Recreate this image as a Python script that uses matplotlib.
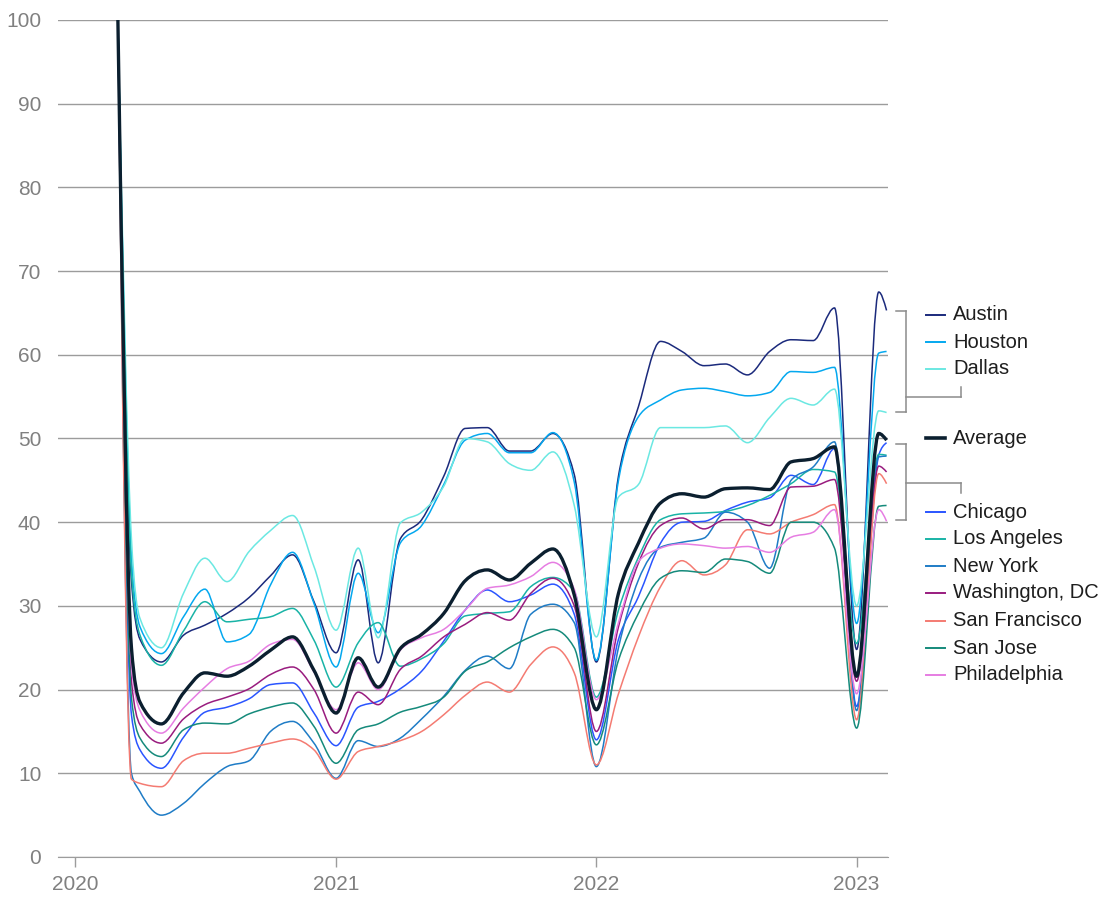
import numpy as np
import pandas as pd
import matplotlib
matplotlib.use("Agg")
import matplotlib.pyplot as plt
import matplotlib.dates as mdates
from matplotlib.path import Path
from matplotlib.patches import PathPatch
from matplotlib.lines import Line2D

plt.rcParams['font.family'] = ['Liberation Sans', 'DejaVu Sans']

# 데이터 (monthly index, 2020-03 = 100)
dates = ['2020-03-01', '2020-03-20', '2020-04-01', '2020-05-01', '2020-06-01', '2020-07-01',
         '2020-08-01', '2020-09-01', '2020-10-01', '2020-11-01', '2020-12-01', '2021-01-01',
         '2021-02-01', '2021-03-01', '2021-04-01', '2021-05-01', '2021-06-01', '2021-07-01',
         '2021-08-01', '2021-09-01', '2021-10-01', '2021-11-01', '2021-12-01', '2022-01-01',
         '2022-02-01', '2022-03-01', '2022-04-01', '2022-05-01', '2022-06-01', '2022-07-01',
         '2022-08-01', '2022-09-01', '2022-10-01', '2022-11-01', '2022-12-01', '2023-01-01',
         '2023-02-01', '2023-02-12']

austin = [100, 33, 26, 23.3, 26.5, 27.7, 29.1, 31.0, 33.6, 36.1, 30.5, 24.4, 35.5, 23.2, 38.0, 40.3,
          45.5, 51.2, 51.3, 48.5, 48.5, 50.6, 45.7, 23.3, 45.5, 53.8, 61.6, 60.4, 58.7, 58.9, 57.6,
          60.4, 61.8, 61.7, 65.6, 24.8, 67.5, 65.3]
houston = [100, 36, 27.5, 24.3, 28.7, 32.0, 25.7, 26.6, 32.5, 36.4, 30.3, 22.7, 33.9, 26.8, 37.5, 39.6,
           44.5, 49.8, 50.6, 48.3, 48.3, 50.7, 44.8, 23.5, 45.0, 52.6, 54.6, 55.8, 56.0, 55.6, 55.1,
           55.5, 58.0, 57.9, 58.5, 27.9, 60.2, 60.4]
dallas = [100, 38, 28.5, 25.0, 31.5, 35.7, 32.9, 36.5, 39.0, 40.8, 34.7, 27.1, 36.9, 26.2, 39.9, 41.2,
          44.3, 50.0, 49.6, 47.0, 46.2, 48.4, 42.0, 26.3, 43.0, 44.5, 51.3, 51.3, 51.3, 51.5, 49.5,
          52.5, 54.8, 54.0, 55.9, 30.0, 53.3, 53.1]
average = [100, 25, 18.5, 15.9, 19.6, 22.0, 21.6, 22.8, 24.7, 26.3, 22.3, 17.2, 23.8, 20.3, 24.9, 26.6,
           29.1, 33.0, 34.3, 33.1, 35.1, 36.8, 31.3, 17.6, 31.5, 37.5, 42.3, 43.4, 43.0, 44.0, 44.1,
           43.9, 47.2, 47.6, 49.0, 21.6, 50.6, 49.8]
chicago = [100, 17, 12.8, 10.6, 14.3, 17.3, 17.9, 18.9, 20.6, 20.8, 17.2, 13.3, 17.9, 18.6, 20.1, 22.2,
           25.8, 29.5, 31.9, 30.5, 31.3, 32.6, 29.0, 14.0, 26.0, 31.1, 37.5, 40.0, 40.1, 41.4, 42.4,
           42.9, 45.6, 44.5, 48.8, 18.0, 48.0, 49.5]
los_angeles = [100, 34, 26.5, 22.9, 27.0, 30.5, 28.1, 28.4, 28.7, 29.7, 25.9, 20.3, 25.6, 28.0, 22.8, 23.7,
               25.5, 28.8, 29.1, 29.3, 32.3, 33.4, 31.7, 19.1, 29.5, 35.8, 40.3, 41.0, 41.1, 41.3, 42.0,
               43.2, 44.6, 46.3, 46.0, 25.5, 48.1, 48.0]
new_york = [100, 10, 7.8, 5.0, 6.4, 8.8, 10.8, 11.5, 15.0, 16.2, 13.6, 9.4, 13.9, 13.2, 14.2, 16.5,
            19.2, 22.3, 24.0, 22.5, 29.0, 30.2, 28.0, 10.8, 25.0, 33.1, 37.0, 37.6, 38.1, 41.2, 40.0,
            34.5, 45.0, 46.6, 49.6, 17.5, 47.8, 47.9]
washington = [100, 21, 15.8, 13.6, 16.5, 18.2, 19.1, 20.1, 21.8, 22.7, 20.0, 14.8, 19.7, 18.2, 22.4, 24.0,
              26.3, 27.8, 29.2, 28.3, 31.5, 33.3, 30.0, 15.0, 27.5, 35.1, 39.6, 40.5, 39.2, 40.3, 40.3,
              39.6, 44.2, 44.3, 45.1, 21.0, 46.7, 46.0]
san_francisco = [100, 9.3, 8.8, 8.4, 11.5, 12.4, 12.4, 13.0, 13.6, 14.1, 12.8, 9.3, 12.6, 13.2, 13.9, 15.0,
                 17.0, 19.3, 20.9, 19.7, 23.0, 25.1, 22.0, 11.0, 19.5, 26.3, 32.3, 35.4, 33.7, 34.9, 39.1,
                 38.6, 40.0, 40.9, 42.1, 16.4, 45.8, 44.6]
san_jose = [100, 19, 14.2, 12.0, 15.2, 16.0, 15.9, 17.1, 17.9, 18.4, 15.6, 11.2, 15.2, 15.9, 17.3, 18.0,
            19.1, 22.2, 23.3, 25.0, 26.3, 27.2, 25.0, 13.4, 23.5, 29.1, 33.3, 34.2, 34.0, 35.6, 35.3,
            33.9, 40.0, 40.0, 36.9, 15.4, 41.9, 42.0]
philadelphia = [100, 23, 17.5, 14.8, 17.8, 20.3, 22.5, 23.4, 25.4, 26.0, 22.1, 17.6, 23.2, 20.0, 24.7, 26.2,
                27.2, 29.5, 32.1, 32.5, 33.5, 35.2, 32.0, 18.8, 28.0, 35.3, 36.9, 37.4, 37.2, 36.9, 37.1,
                36.4, 38.2, 38.8, 41.5, 19.5, 41.5, 40.1]

series = [
    ('Austin', austin, '#1b2a7c'),
    ('Houston', houston, '#04a8ef'),
    ('Dallas', dallas, '#6be8e2'),
    ('Chicago', chicago, '#2a55ff'),
    ('Los Angeles', los_angeles, '#19b3a6'),
    ('New York', new_york, '#1f7cc6'),
    ('Washington, DC', washington, '#991c7f'),
    ('San Francisco', san_francisco, '#f47b72'),
    ('San Jose', san_jose, '#158a7b'),
    ('Philadelphia', philadelphia, '#e67de2'),
]
avg_color = '#0b1f2f'


def smooth_path(x, y):
    # monotone cubic (Steffen) -> bezier path
    x = np.asarray(x, float)
    y = np.asarray(y, float)
    h = np.diff(x)
    s = np.diff(y) / h
    n = len(x)
    t = np.zeros(n)
    for i in range(1, n - 1):
        p = (s[i - 1] * h[i] + s[i] * h[i - 1]) / (h[i - 1] + h[i])
        t[i] = (np.sign(s[i - 1]) + np.sign(s[i])) * min(abs(s[i - 1]), abs(s[i]), 0.5 * abs(p))
    t[0] = (3 * s[0] - t[1]) / 2
    t[-1] = (3 * s[-1] - t[-2]) / 2
    verts = [(x[0], y[0])]
    codes = [Path.MOVETO]
    for i in range(n - 1):
        dx = h[i] / 3
        verts += [(x[i] + dx, y[i] + dx * t[i]), (x[i + 1] - dx, y[i + 1] - dx * t[i + 1]), (x[i + 1], y[i + 1])]
        codes += [Path.CURVE4] * 3
    return Path(verts, codes)


W, H = 1115, 898
fig = plt.figure(figsize=(W / 100, H / 100), dpi=100)
fig.set_facecolor('white')
ax = fig.add_axes([58 / W, 1 - 857 / H, 830 / W, 837 / H])

xd = mdates.date2num(pd.to_datetime(dates))

for name, vals, col in series:
    ax.add_patch(PathPatch(smooth_path(xd, vals), facecolor='none', edgecolor=col, lw=1.1, zorder=3))
ax.add_patch(PathPatch(smooth_path(xd, average), facecolor='none', edgecolor=avg_color, lw=2.4, zorder=5))

ax.set_ylim(0, 100)
ax.set_xlim(mdates.date2num(pd.Timestamp('2019-12-08')), mdates.date2num(pd.Timestamp('2023-02-14')))
ax.set_yticks(np.arange(0, 101, 10))
years = ['2020', '2021', '2022', '2023']
ax.set_xticks(mdates.date2num(pd.to_datetime([y + '-01-01' for y in years])))
ax.set_xticklabels(years)

grid_c = '#9c9c9c'
ax.grid(True, axis='y', color=grid_c, lw=1.0)
ax.set_axisbelow(True)
for sp in ['top', 'right', 'left']:
    ax.spines[sp].set_visible(False)
ax.spines['bottom'].set_color(grid_c)
ax.tick_params(axis='y', length=0, pad=12, labelsize=15, labelcolor='#808080')
ax.tick_params(axis='x', length=7, width=1, color=grid_c, pad=6, labelsize=15, labelcolor='#808080')


def fx(px):
    return px / W


def fy(py):
    return 1 - py / H


# 범례
legend_rows = [('Austin', '#1b2a7c', 315), ('Houston', '#04a8ef', 342), ('Dallas', '#6be8e2', 369),
               ('Average', avg_color, 438),
               ('Chicago', '#2a55ff', 512), ('Los Angeles', '#19b3a6', 539), ('New York', '#1f7cc6', 566),
               ('Washington, DC', '#991c7f', 593), ('San Francisco', '#f47b72', 621),
               ('San Jose', '#158a7b', 648), ('Philadelphia', '#e67de2', 675)]
for lab, col, py in legend_rows:
    lw = 2.6 if lab == 'Average' else 1.4
    fig.add_artist(Line2D([fx(926), fx(945)], [fy(py), fy(py)], color=col, lw=lw, transform=fig.transFigure))
    fig.text(fx(953), fy(py), lab, fontsize=14.5, color='#1e1e1e', va='center', ha='left')

# 괄호
br_c = '#8c8c8c'
def bracket(top, bot, mid, tick_end):
    segs = [([896, 906], [top, top]), ([906, 906], [top, bot]), ([896, 906], [bot, bot]),
            ([906, 961], [mid, mid]), ([961, 961], [mid, tick_end])]
    for xs, ys in segs:
        fig.add_artist(Line2D([fx(v) for v in xs], [fy(v) for v in ys], color=br_c, lw=1.1,
                              transform=fig.transFigure))

bracket(310.7, 411.7, 396.7, 386.7)
bracket(444, 520, 482.7, 492.7)

fig.savefig('out.png', dpi=100)
